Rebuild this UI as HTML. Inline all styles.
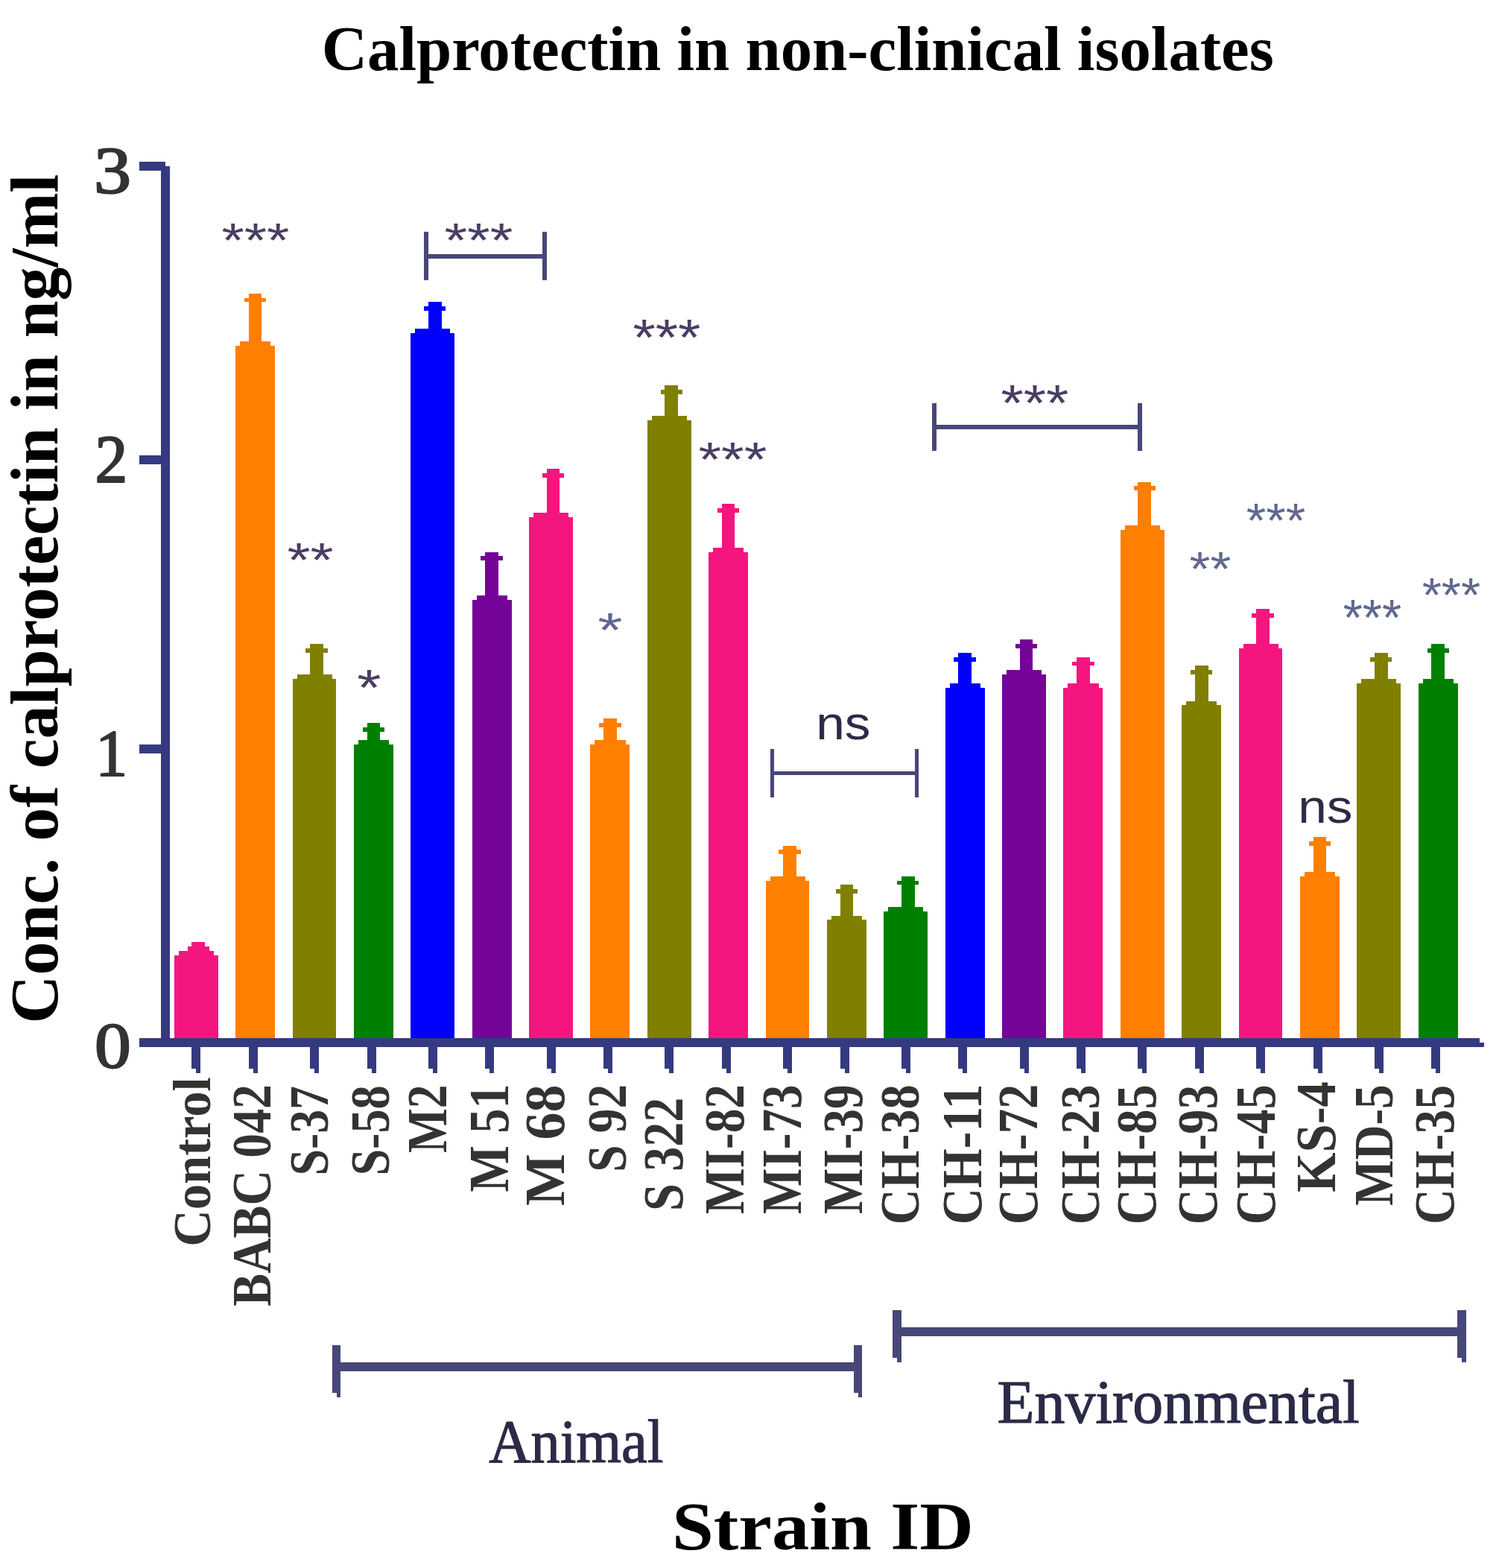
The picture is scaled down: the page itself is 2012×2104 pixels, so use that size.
<!DOCTYPE html>
<html><head><meta charset="utf-8"><title>Calprotectin in non-clinical isolates</title>
<style>html,body{margin:0;padding:0;background:#fff;}svg{display:block;}</style></head>
<body><svg width="2012" height="2104" viewBox="0 0 2012 2104" shape-rendering="crispEdges">
<rect x="0" y="0" width="2012" height="2104" fill="#fff"/>
<rect x="216.1" y="223.2" width="11.8" height="1181.8" fill="#353a80"/>
<rect x="187.0" y="217.0" width="34.7" height="11.5" fill="#353a80"/>
<rect x="187.0" y="611.2" width="29.1" height="11.7" fill="#353a80"/>
<rect x="187.0" y="999.2" width="29.1" height="11.7" fill="#353a80"/>
<rect x="187.0" y="1393.0" width="1798.9" height="12.0" fill="#353a80"/>
<rect x="1985.9" y="1399.2" width="6.0" height="5.8" fill="#353a80"/>
<rect x="257.3" y="1405.0" width="6.0" height="28.7" fill="#353a80"/>
<rect x="263.3" y="1405.0" width="5.8" height="34.9" fill="#353a80"/>
<rect x="334.0" y="1405.0" width="6.0" height="28.7" fill="#353a80"/>
<rect x="340.0" y="1405.0" width="5.8" height="34.9" fill="#353a80"/>
<rect x="416.2" y="1405.0" width="6.0" height="28.7" fill="#353a80"/>
<rect x="422.2" y="1405.0" width="5.8" height="34.9" fill="#353a80"/>
<rect x="493.1" y="1405.0" width="6.0" height="28.7" fill="#353a80"/>
<rect x="499.1" y="1405.0" width="5.8" height="34.9" fill="#353a80"/>
<rect x="575.2" y="1405.0" width="6.0" height="28.7" fill="#353a80"/>
<rect x="581.2" y="1405.0" width="5.8" height="34.9" fill="#353a80"/>
<rect x="651.2" y="1405.0" width="6.0" height="28.7" fill="#353a80"/>
<rect x="657.2" y="1405.0" width="5.8" height="34.9" fill="#353a80"/>
<rect x="733.9" y="1405.0" width="6.0" height="28.7" fill="#353a80"/>
<rect x="739.9" y="1405.0" width="5.8" height="34.9" fill="#353a80"/>
<rect x="810.0" y="1405.0" width="6.0" height="28.7" fill="#353a80"/>
<rect x="816.0" y="1405.0" width="5.8" height="34.9" fill="#353a80"/>
<rect x="892.1" y="1405.0" width="6.0" height="28.7" fill="#353a80"/>
<rect x="898.1" y="1405.0" width="5.8" height="34.9" fill="#353a80"/>
<rect x="968.9" y="1405.0" width="6.0" height="28.7" fill="#353a80"/>
<rect x="974.9" y="1405.0" width="5.8" height="34.9" fill="#353a80"/>
<rect x="1051.2" y="1405.0" width="6.0" height="28.7" fill="#353a80"/>
<rect x="1057.2" y="1405.0" width="5.8" height="34.9" fill="#353a80"/>
<rect x="1128.0" y="1405.0" width="6.0" height="28.7" fill="#353a80"/>
<rect x="1134.0" y="1405.0" width="5.8" height="34.9" fill="#353a80"/>
<rect x="1210.0" y="1405.0" width="6.0" height="28.7" fill="#353a80"/>
<rect x="1216.0" y="1405.0" width="5.8" height="34.9" fill="#353a80"/>
<rect x="1285.7" y="1405.0" width="6.0" height="28.7" fill="#353a80"/>
<rect x="1291.7" y="1405.0" width="5.8" height="34.9" fill="#353a80"/>
<rect x="1368.9" y="1405.0" width="6.0" height="28.7" fill="#353a80"/>
<rect x="1374.9" y="1405.0" width="5.8" height="34.9" fill="#353a80"/>
<rect x="1444.8" y="1405.0" width="6.0" height="28.7" fill="#353a80"/>
<rect x="1450.8" y="1405.0" width="5.8" height="34.9" fill="#353a80"/>
<rect x="1527.3" y="1405.0" width="6.0" height="28.7" fill="#353a80"/>
<rect x="1533.3" y="1405.0" width="5.8" height="34.9" fill="#353a80"/>
<rect x="1604.3" y="1405.0" width="6.0" height="28.7" fill="#353a80"/>
<rect x="1610.3" y="1405.0" width="5.8" height="34.9" fill="#353a80"/>
<rect x="1686.1" y="1405.0" width="6.0" height="28.7" fill="#353a80"/>
<rect x="1692.1" y="1405.0" width="5.8" height="34.9" fill="#353a80"/>
<rect x="1763.1" y="1405.0" width="6.0" height="28.7" fill="#353a80"/>
<rect x="1769.1" y="1405.0" width="5.8" height="34.9" fill="#353a80"/>
<rect x="1845.2" y="1405.0" width="6.0" height="28.7" fill="#353a80"/>
<rect x="1851.2" y="1405.0" width="5.8" height="34.9" fill="#353a80"/>
<rect x="1921.1" y="1405.0" width="6.0" height="28.7" fill="#353a80"/>
<rect x="1927.1" y="1405.0" width="5.8" height="34.9" fill="#353a80"/>
<rect x="234.0" y="1282.1" width="59.0" height="110.9" fill="#f5157e"/>
<rect x="240.1" y="1276.2" width="46.8" height="5.9" fill="#f5157e"/>
<rect x="252.0" y="1270.2" width="28.9" height="6.0" fill="#f5157e"/>
<rect x="257.2" y="1264.0" width="17.7" height="6.2" fill="#f5157e"/>
<rect x="316.0" y="464.0" width="53.0" height="929.0" fill="#ff7f00"/>
<rect x="322.0" y="458.0" width="41.0" height="6.0" fill="#ff7f00"/>
<rect x="334.0" y="394.1" width="17.0" height="63.9" fill="#ff7f00"/>
<rect x="328.0" y="399.9" width="29.0" height="5.1" fill="#ff7f00"/>
<rect x="393.0" y="910.9" width="58.0" height="482.1" fill="#808000"/>
<rect x="399.0" y="905.0" width="46.9" height="5.9" fill="#808000"/>
<rect x="416.0" y="863.9" width="18.0" height="41.1" fill="#808000"/>
<rect x="409.8" y="870.0" width="30.2" height="5.8" fill="#808000"/>
<rect x="475.0" y="999.0" width="53.0" height="394.0" fill="#008000"/>
<rect x="481.0" y="993.0" width="41.0" height="6.0" fill="#008000"/>
<rect x="493.0" y="970.0" width="17.0" height="23.0" fill="#008000"/>
<rect x="487.0" y="976.0" width="29.0" height="5.8" fill="#008000"/>
<rect x="551.2" y="447.2" width="58.8" height="945.8" fill="#0000ff"/>
<rect x="557.3" y="441.1" width="46.8" height="6.1" fill="#0000ff"/>
<rect x="575.2" y="405.0" width="17.7" height="36.1" fill="#0000ff"/>
<rect x="569.2" y="411.1" width="28.9" height="5.8" fill="#0000ff"/>
<rect x="634.0" y="805.0" width="53.1" height="588.0" fill="#740498"/>
<rect x="640.0" y="799.0" width="41.0" height="6.0" fill="#740498"/>
<rect x="651.2" y="741.0" width="18.0" height="58.0" fill="#740498"/>
<rect x="645.2" y="746.1" width="30.0" height="5.6" fill="#740498"/>
<rect x="710.2" y="694.1" width="58.8" height="698.9" fill="#f5157e"/>
<rect x="716.2" y="688.3" width="46.9" height="5.8" fill="#f5157e"/>
<rect x="734.2" y="629.0" width="16.8" height="59.3" fill="#f5157e"/>
<rect x="727.9" y="635.1" width="29.1" height="5.6" fill="#f5157e"/>
<rect x="792.0" y="999.2" width="53.0" height="393.8" fill="#ff7f00"/>
<rect x="797.9" y="993.2" width="42.1" height="6.0" fill="#ff7f00"/>
<rect x="810.2" y="964.1" width="17.6" height="29.1" fill="#ff7f00"/>
<rect x="803.9" y="970.0" width="29.9" height="5.8" fill="#ff7f00"/>
<rect x="869.2" y="564.0" width="58.8" height="829.0" fill="#808000"/>
<rect x="875.2" y="558.0" width="46.8" height="6.0" fill="#808000"/>
<rect x="892.0" y="517.2" width="17.7" height="40.8" fill="#808000"/>
<rect x="886.9" y="523.1" width="29.1" height="5.5" fill="#808000"/>
<rect x="951.0" y="741.3" width="52.9" height="651.7" fill="#f5157e"/>
<rect x="957.0" y="735.0" width="40.9" height="6.3" fill="#f5157e"/>
<rect x="969.0" y="676.3" width="17.0" height="58.7" fill="#f5157e"/>
<rect x="963.0" y="682.0" width="28.9" height="5.7" fill="#f5157e"/>
<rect x="1028.0" y="1182.0" width="57.9" height="211.0" fill="#ff7f00"/>
<rect x="1034.0" y="1175.8" width="47.1" height="6.2" fill="#ff7f00"/>
<rect x="1051.0" y="1134.8" width="17.9" height="41.0" fill="#ff7f00"/>
<rect x="1045.0" y="1139.9" width="30.0" height="5.9" fill="#ff7f00"/>
<rect x="1110.0" y="1234.0" width="53.0" height="159.0" fill="#808000"/>
<rect x="1116.0" y="1228.9" width="41.0" height="5.1" fill="#808000"/>
<rect x="1128.1" y="1186.9" width="16.9" height="42.0" fill="#808000"/>
<rect x="1122.0" y="1192.7" width="29.0" height="6.1" fill="#808000"/>
<rect x="1186.0" y="1222.9" width="59.0" height="170.1" fill="#008000"/>
<rect x="1192.0" y="1216.7" width="47.0" height="6.2" fill="#008000"/>
<rect x="1210.0" y="1175.8" width="18.0" height="40.9" fill="#008000"/>
<rect x="1204.0" y="1181.8" width="29.0" height="5.1" fill="#008000"/>
<rect x="1269.0" y="923.0" width="53.0" height="470.0" fill="#0000ff"/>
<rect x="1275.0" y="917.0" width="41.0" height="6.0" fill="#0000ff"/>
<rect x="1286.1" y="876.0" width="17.9" height="41.0" fill="#0000ff"/>
<rect x="1280.0" y="882.0" width="30.0" height="5.7" fill="#0000ff"/>
<rect x="1345.0" y="905.0" width="59.0" height="488.0" fill="#740498"/>
<rect x="1351.0" y="898.9" width="47.0" height="6.1" fill="#740498"/>
<rect x="1369.0" y="858.0" width="17.0" height="40.9" fill="#740498"/>
<rect x="1363.0" y="864.0" width="29.0" height="6.0" fill="#740498"/>
<rect x="1427.0" y="923.0" width="52.9" height="470.0" fill="#f5157e"/>
<rect x="1433.0" y="917.0" width="42.0" height="6.0" fill="#f5157e"/>
<rect x="1445.2" y="882.0" width="17.8" height="35.0" fill="#f5157e"/>
<rect x="1439.0" y="888.0" width="30.0" height="4.9" fill="#f5157e"/>
<rect x="1504.0" y="711.1" width="59.0" height="681.9" fill="#ff7f00"/>
<rect x="1510.0" y="705.2" width="46.8" height="5.9" fill="#ff7f00"/>
<rect x="1527.0" y="647.0" width="18.0" height="58.2" fill="#ff7f00"/>
<rect x="1522.0" y="652.2" width="29.0" height="5.7" fill="#ff7f00"/>
<rect x="1586.0" y="945.9" width="53.1" height="447.1" fill="#808000"/>
<rect x="1592.0" y="940.8" width="41.0" height="5.1" fill="#808000"/>
<rect x="1603.9" y="893.0" width="18.1" height="47.8" fill="#808000"/>
<rect x="1598.0" y="899.0" width="29.0" height="5.7" fill="#808000"/>
<rect x="1663.0" y="870.0" width="58.0" height="523.0" fill="#f5157e"/>
<rect x="1669.0" y="864.0" width="47.0" height="6.0" fill="#f5157e"/>
<rect x="1686.0" y="817.0" width="18.0" height="47.0" fill="#f5157e"/>
<rect x="1680.0" y="823.0" width="30.0" height="5.8" fill="#f5157e"/>
<rect x="1745.2" y="1176.1" width="52.7" height="216.9" fill="#ff7f00"/>
<rect x="1751.2" y="1170.0" width="40.8" height="6.1" fill="#ff7f00"/>
<rect x="1763.1" y="1123.0" width="16.9" height="47.0" fill="#ff7f00"/>
<rect x="1757.0" y="1129.0" width="29.0" height="5.6" fill="#ff7f00"/>
<rect x="1821.0" y="917.2" width="59.0" height="475.8" fill="#808000"/>
<rect x="1827.0" y="911.4" width="47.1" height="5.8" fill="#808000"/>
<rect x="1845.2" y="876.0" width="17.8" height="35.4" fill="#808000"/>
<rect x="1839.1" y="882.0" width="29.0" height="5.9" fill="#808000"/>
<rect x="1904.2" y="917.2" width="52.8" height="475.8" fill="#008000"/>
<rect x="1910.3" y="911.4" width="40.7" height="5.8" fill="#008000"/>
<rect x="1921.2" y="864.1" width="17.8" height="47.3" fill="#008000"/>
<rect x="1916.0" y="870.0" width="29.0" height="6.0" fill="#008000"/>
<rect x="569.1" y="311.1" width="5.8" height="64.8" fill="#47477a"/>
<rect x="728.2" y="311.1" width="5.8" height="64.8" fill="#47477a"/>
<rect x="569.1" y="340.9" width="164.9" height="6.0" fill="#47477a"/>
<rect x="1034.0" y="1004.9" width="5.0" height="65.1" fill="#47477a"/>
<rect x="1228.0" y="1004.9" width="5.0" height="65.1" fill="#47477a"/>
<rect x="1034.0" y="1035.0" width="199.0" height="5.0" fill="#47477a"/>
<rect x="1251.0" y="541.1" width="5.9" height="63.7" fill="#47477a"/>
<rect x="1527.0" y="541.1" width="5.9" height="63.7" fill="#47477a"/>
<rect x="1251.0" y="570.0" width="281.9" height="5.8" fill="#47477a"/>
<rect x="446.0" y="1804.7" width="11.0" height="64.5" fill="#47477a"/>
<rect x="451.5" y="1804.7" width="5.5" height="70.0" fill="#47477a"/>
<rect x="1146.0" y="1804.7" width="11.0" height="64.5" fill="#47477a"/>
<rect x="1151.5" y="1804.7" width="5.5" height="70.0" fill="#47477a"/>
<rect x="446.0" y="1827.8" width="711.0" height="11.9" fill="#47477a"/>
<rect x="1198.1" y="1758.1" width="11.8" height="64.2" fill="#47477a"/>
<rect x="1204.0" y="1758.1" width="5.9" height="69.7" fill="#47477a"/>
<rect x="1956.2" y="1758.1" width="11.8" height="64.2" fill="#47477a"/>
<rect x="1962.1" y="1758.1" width="5.9" height="69.7" fill="#47477a"/>
<rect x="1198.1" y="1781.2" width="769.9" height="11.7" fill="#47477a"/>
<text transform="matrix(0.84857,0,0,0.85222,431.76,93.80)" font-family="'Liberation Serif', serif" font-weight="bold" font-size="100" fill="#000" xml:space="preserve">Calprotectin in non-clinical isolates</text>
<text transform="matrix(0,-0.89929,0.91209,0,76.85,1373.50)" font-family="'Liberation Serif', serif" font-weight="bold" font-size="100" fill="#000" xml:space="preserve">Conc. of calprotectin in ng/ml</text>
<text transform="matrix(1.00000,0,0,0.89394,126.00,258.11)" font-family="'Liberation Serif', serif" font-weight="normal" font-size="100" fill="#333333" xml:space="preserve" stroke="#333333" stroke-width="2.5" stroke-linejoin="round">3</text>
<text transform="matrix(0.87500,0,0,0.90769,127.50,647.00)" font-family="'Liberation Serif', serif" font-weight="normal" font-size="100" fill="#333333" xml:space="preserve" stroke="#333333" stroke-width="2.5" stroke-linejoin="round">2</text>
<text transform="matrix(0.85714,0,0,0.87879,128.29,1040.00)" font-family="'Liberation Serif', serif" font-weight="normal" font-size="100" fill="#333333" xml:space="preserve" stroke="#333333" stroke-width="2.5" stroke-linejoin="round">1</text>
<text transform="matrix(0.97619,0,0,0.86567,127.10,1432.27)" font-family="'Liberation Serif', serif" font-weight="normal" font-size="100" fill="#333333" xml:space="preserve" stroke="#333333" stroke-width="2.5" stroke-linejoin="round">0</text>
<text transform="matrix(1.00509,0,0,0.90986,901.97,2078.78)" font-family="'Liberation Serif', serif" font-weight="bold" font-size="100" fill="#000" xml:space="preserve">Strain ID</text>
<text transform="matrix(0.78114,0,0,0.82143,656.22,1961.68)" font-family="'Liberation Serif', serif" font-weight="normal" font-size="100" fill="#2b2b48" xml:space="preserve" stroke="#2b2b48" stroke-width="1.5" stroke-linejoin="round">Animal</text>
<text transform="matrix(0.81834,0,0,0.83286,1338.54,1909.17)" font-family="'Liberation Serif', serif" font-weight="normal" font-size="100" fill="#2b2b48" xml:space="preserve" stroke="#2b2b48" stroke-width="1.5" stroke-linejoin="round">Environmental</text>
<text transform="matrix(0.69474,0,0,0.63636,1095.14,992.36)" font-family="'Liberation Sans', sans-serif" font-weight="normal" font-size="100" fill="#2b2b48" xml:space="preserve">ns</text>
<text transform="matrix(0.69474,0,0,0.63273,1742.14,1104.17)" font-family="'Liberation Sans', sans-serif" font-weight="normal" font-size="100" fill="#2b2b48" xml:space="preserve">ns</text>
<text transform="matrix(0,-0.68554,0.71429,0,281.79,1672.73)" font-family="'Liberation Serif', serif" font-weight="bold" font-size="100" fill="#333333" xml:space="preserve">Control</text>
<text transform="matrix(0,-0.65740,0.73529,0,363.13,1752.71)" font-family="'Liberation Serif', serif" font-weight="bold" font-size="100" fill="#333333" xml:space="preserve">BABC 042</text>
<text transform="matrix(0,-0.63846,0.74925,0,440.10,1577.59)" font-family="'Liberation Serif', serif" font-weight="bold" font-size="100" fill="#333333" xml:space="preserve">S-37</text>
<text transform="matrix(0,-0.64199,0.74925,0,522.20,1577.61)" font-family="'Liberation Serif', serif" font-weight="bold" font-size="100" fill="#333333" xml:space="preserve">S-58</text>
<text transform="matrix(0,-0.63406,0.75152,0,599.05,1546.97)" font-family="'Liberation Serif', serif" font-weight="bold" font-size="100" fill="#333333" xml:space="preserve">M2</text>
<text transform="matrix(0,-0.66179,0.76269,0,682.04,1599.62)" font-family="'Liberation Serif', serif" font-weight="bold" font-size="100" fill="#333333" xml:space="preserve">M 51</text>
<text transform="matrix(0,-0.74019,0.75373,0,757.49,1617.88)" font-family="'Liberation Serif', serif" font-weight="bold" font-size="100" fill="#333333" xml:space="preserve">M 68</text>
<text transform="matrix(0,-0.65205,0.74627,0,839.71,1572.76)" font-family="'Liberation Serif', serif" font-weight="bold" font-size="100" fill="#333333" xml:space="preserve">S 92</text>
<text transform="matrix(0,-0.66063,0.75821,0,915.98,1625.00)" font-family="'Liberation Serif', serif" font-weight="bold" font-size="100" fill="#333333" xml:space="preserve">S 322</text>
<text transform="matrix(0,-0.65192,0.75821,0,998.38,1628.90)" font-family="'Liberation Serif', serif" font-weight="bold" font-size="100" fill="#333333" xml:space="preserve">MI-82</text>
<text transform="matrix(0,-0.65172,0.75522,0,1075.49,1629.00)" font-family="'Liberation Serif', serif" font-weight="bold" font-size="100" fill="#333333" xml:space="preserve">MI-73</text>
<text transform="matrix(0,-0.65172,0.75373,0,1157.49,1629.00)" font-family="'Liberation Serif', serif" font-weight="bold" font-size="100" fill="#333333" xml:space="preserve">MI-39</text>
<text transform="matrix(0,-0.66291,0.74328,0,1233.31,1643.21)" font-family="'Liberation Serif', serif" font-weight="bold" font-size="100" fill="#333333" xml:space="preserve">CH-38</text>
<text transform="matrix(0,-0.68022,0.75672,0,1317.24,1643.30)" font-family="'Liberation Serif', serif" font-weight="bold" font-size="100" fill="#333333" xml:space="preserve">CH-11</text>
<text transform="matrix(0,-0.66533,0.75152,0,1391.85,1643.23)" font-family="'Liberation Serif', serif" font-weight="bold" font-size="100" fill="#333333" xml:space="preserve">CH-72</text>
<text transform="matrix(0,-0.66291,0.74030,0,1474.52,1643.21)" font-family="'Liberation Serif', serif" font-weight="bold" font-size="100" fill="#333333" xml:space="preserve">CH-23</text>
<text transform="matrix(0,-0.66291,0.75672,0,1551.19,1643.21)" font-family="'Liberation Serif', serif" font-weight="bold" font-size="100" fill="#333333" xml:space="preserve">CH-85</text>
<text transform="matrix(0,-0.66291,0.75821,0,1633.28,1643.21)" font-family="'Liberation Serif', serif" font-weight="bold" font-size="100" fill="#333333" xml:space="preserve">CH-93</text>
<text transform="matrix(0,-0.66291,0.76667,0,1710.83,1643.21)" font-family="'Liberation Serif', serif" font-weight="bold" font-size="100" fill="#333333" xml:space="preserve">CH-45</text>
<text transform="matrix(0,-0.68732,0.75821,0,1792.48,1599.97)" font-family="'Liberation Serif', serif" font-weight="bold" font-size="100" fill="#333333" xml:space="preserve">KS-4</text>
<text transform="matrix(0,-0.65000,0.74697,0,1868.75,1617.80)" font-family="'Liberation Serif', serif" font-weight="bold" font-size="100" fill="#333333" xml:space="preserve">MD-5</text>
<text transform="matrix(0,-0.66073,0.75672,0,1951.19,1642.90)" font-family="'Liberation Serif', serif" font-weight="bold" font-size="100" fill="#333333" xml:space="preserve">CH-35</text>
<text transform="matrix(0.77876,0,0,0.65429,297.44,345.15)" font-family="'Liberation Sans', sans-serif" font-weight="normal" font-size="100" fill="#4a3d63" xml:space="preserve">***</text>
<text transform="matrix(0.79730,0,0,0.65429,385.41,774.15)" font-family="'Liberation Sans', sans-serif" font-weight="normal" font-size="100" fill="#4a3d63" xml:space="preserve">**</text>
<text transform="matrix(0.82857,0,0,0.68000,479.34,945.92)" font-family="'Liberation Sans', sans-serif" font-weight="normal" font-size="100" fill="#4a3d63" xml:space="preserve">*</text>
<text transform="matrix(0.78761,0,0,0.65429,596.42,345.15)" font-family="'Liberation Sans', sans-serif" font-weight="normal" font-size="100" fill="#4a3d63" xml:space="preserve">***</text>
<text transform="matrix(0.77965,0,0,0.68571,849.44,476.31)" font-family="'Liberation Sans', sans-serif" font-weight="normal" font-size="100" fill="#4a3d63" xml:space="preserve">***</text>
<text transform="matrix(0.78761,0,0,0.65429,937.42,639.05)" font-family="'Liberation Sans', sans-serif" font-weight="normal" font-size="100" fill="#4a3d63" xml:space="preserve">***</text>
<text transform="matrix(0.77876,0,0,0.68571,1343.44,564.31)" font-family="'Liberation Sans', sans-serif" font-weight="normal" font-size="100" fill="#4a3d63" xml:space="preserve">***</text>
<text transform="matrix(0.85429,0,0,0.64571,802.19,867.75)" font-family="'Liberation Sans', sans-serif" font-weight="normal" font-size="100" fill="#606890" xml:space="preserve">*</text>
<text transform="matrix(0.71622,0,0,0.65714,1596.57,786.34)" font-family="'Liberation Sans', sans-serif" font-weight="normal" font-size="100" fill="#606890" xml:space="preserve">**</text>
<text transform="matrix(0.68142,0,0,0.65143,1672.64,720.95)" font-family="'Liberation Sans', sans-serif" font-weight="normal" font-size="100" fill="#606890" xml:space="preserve">***</text>
<text transform="matrix(0.67257,0,0,0.68286,1802.65,852.12)" font-family="'Liberation Sans', sans-serif" font-weight="normal" font-size="100" fill="#606890" xml:space="preserve">***</text>
<text transform="matrix(0.67168,0,0,0.65143,1908.66,820.95)" font-family="'Liberation Sans', sans-serif" font-weight="normal" font-size="100" fill="#606890" xml:space="preserve">***</text>
</svg></body></html>
